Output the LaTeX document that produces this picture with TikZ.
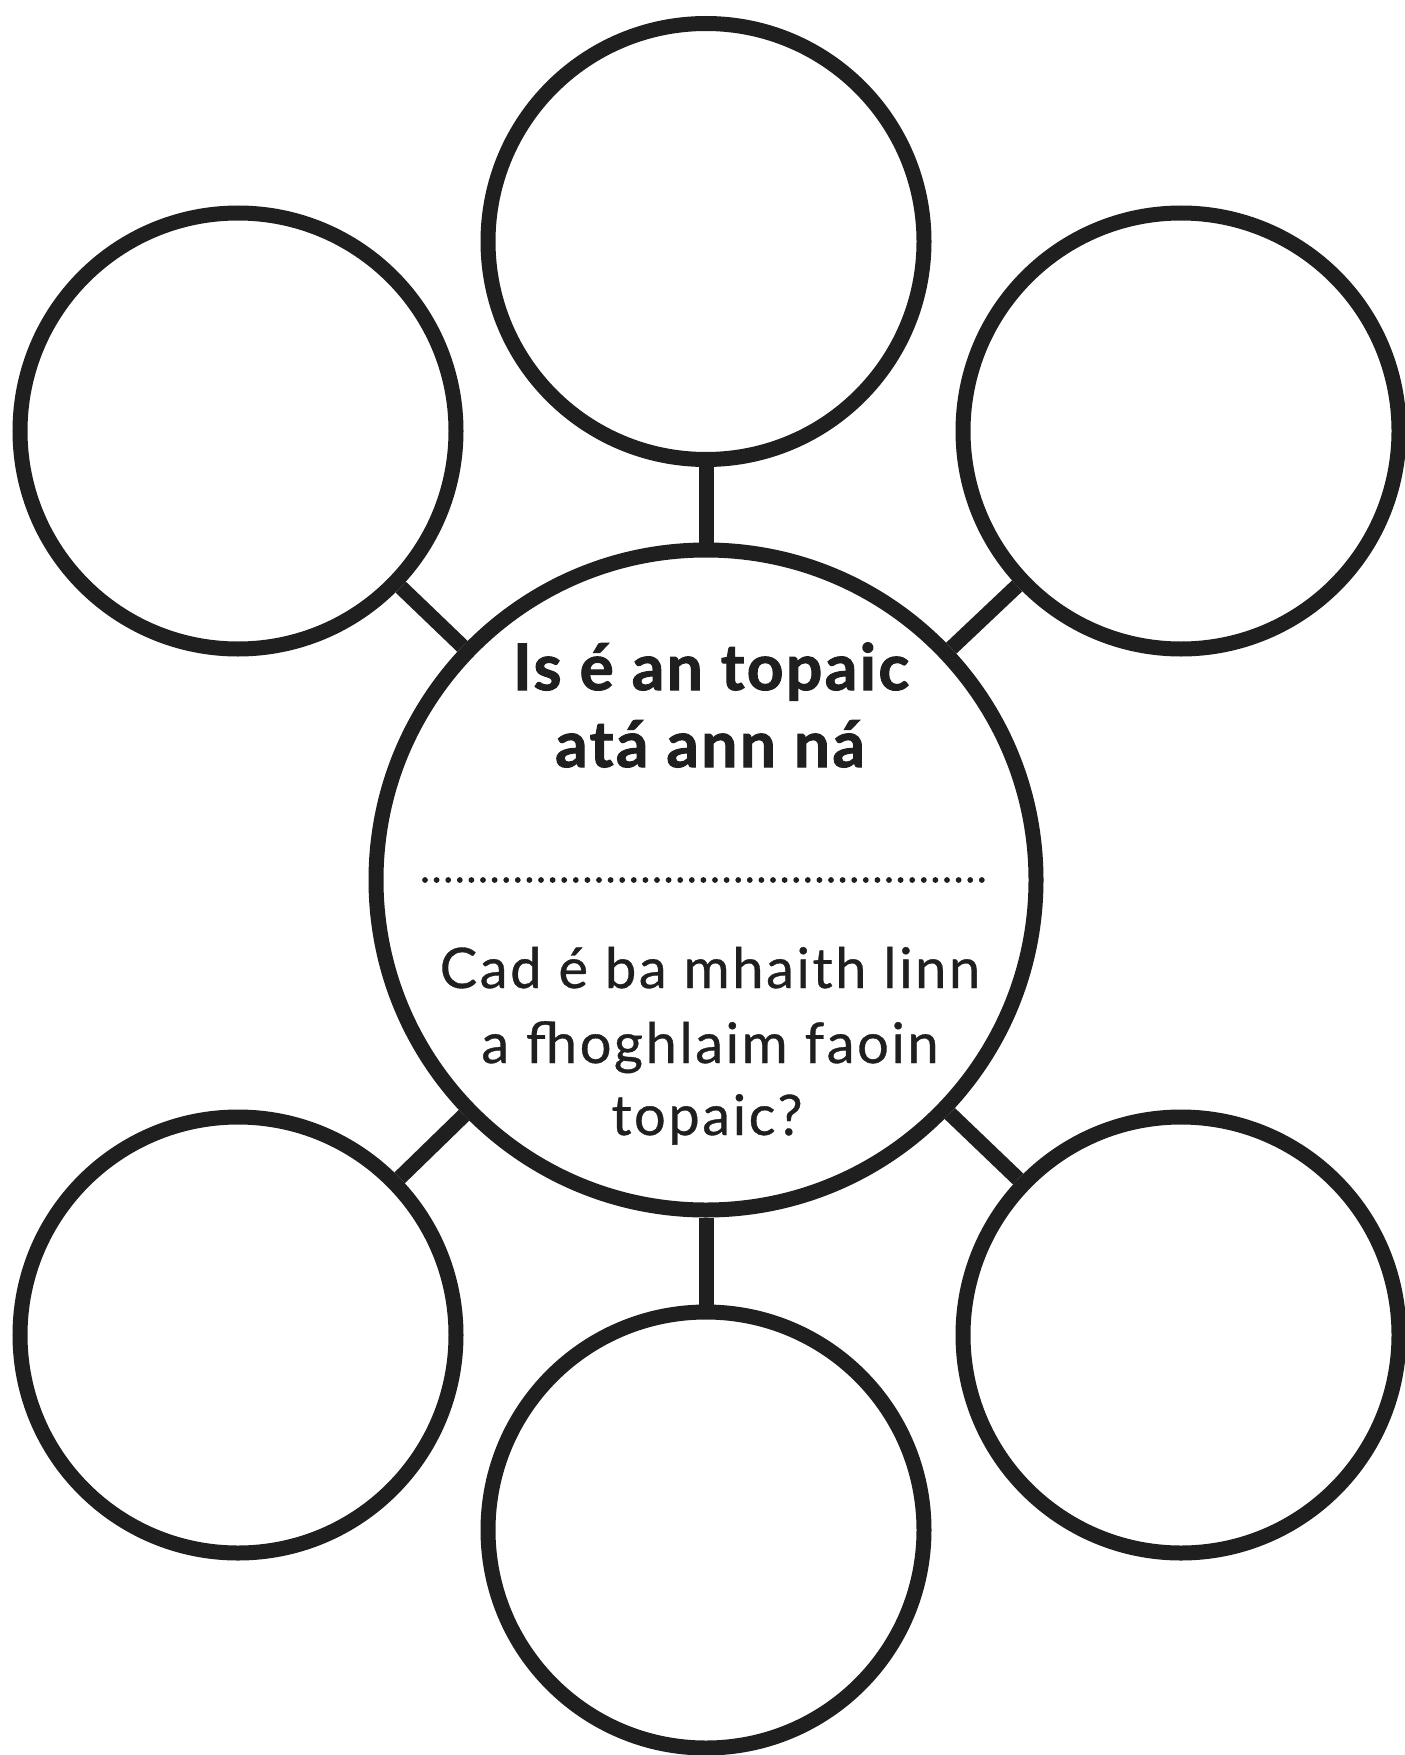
\documentclass[tikz,border=0pt]{standalone}
\usepackage{fontspec}
\setmainfont{Lato}
\newfontfamily\widebold[LetterSpace=3.8,BoldFeatures={FakeBold=1.6}]{Lato}
\newfontfamily\wideplain[LetterSpace=4.6,FakeBold=0.6]{Lato}
\begin{document}
\begin{tikzpicture}[x=0.5pt,y=-0.5pt,
  ring/.style={circle,draw=black!88,line width=7.5pt,inner sep=0pt,minimum size=#1},
  link/.style={draw=black!88,line width=7.5pt},
  boldline/.style={anchor=base,inner sep=0pt,font=\widebold\fontsize{32}{38}\selectfont\bfseries,text=black!88},
  plainline/.style={anchor=base,inner sep=0pt,font=\wideplain\fontsize{28}{34}\selectfont,text=black!88},
  dots/.style={draw=black!88,line width=2.9pt,line cap=round,dash pattern=on 0pt off 5.8pt}]
\useasboundingbox (0,0) rectangle (1404,1755);
\fill[white] (0,0) rectangle (1404,1755);
% central circle
\node[ring=330pt] (c) at (706,880) {};
% satellites
\node[ring=218pt] (top) at (706,241.5) {};
\node[ring=218pt] (bot) at (706,1530) {};
\node[ring=218pt] (tl) at (238,431) {};
\node[ring=218pt] (tr) at (1181,431) {};
\node[ring=218pt] (bl) at (238,1335) {};
\node[ring=218pt] (br) at (1181,1335) {};
% connectors
\draw[link] (c) -- (top);
\draw[link] (c) -- (bot);
\draw[link] (c) -- (tl);
\draw[link] (c) -- (tr);
\draw[link] (c) -- (bl);
\draw[link] (c) -- (br);
% texts
\node[boldline] (t1) at (711,690) {Is é an topaic};
\node[boldline] (t2) at (710,767) {atá ann ná};
\coordinate (d1) at (425,880);
\coordinate (d2) at (983,880);
\draw[dots] (d1) -- (d2);
\node[plainline] (t3) at (710,988) {Cad é ba mhaith linn};
\node[plainline] (t4) at (710,1063) {a fhoghlaim faoin};
\node[plainline] (t5) at (707,1135) {topaic?};
\end{tikzpicture}
\end{document}
